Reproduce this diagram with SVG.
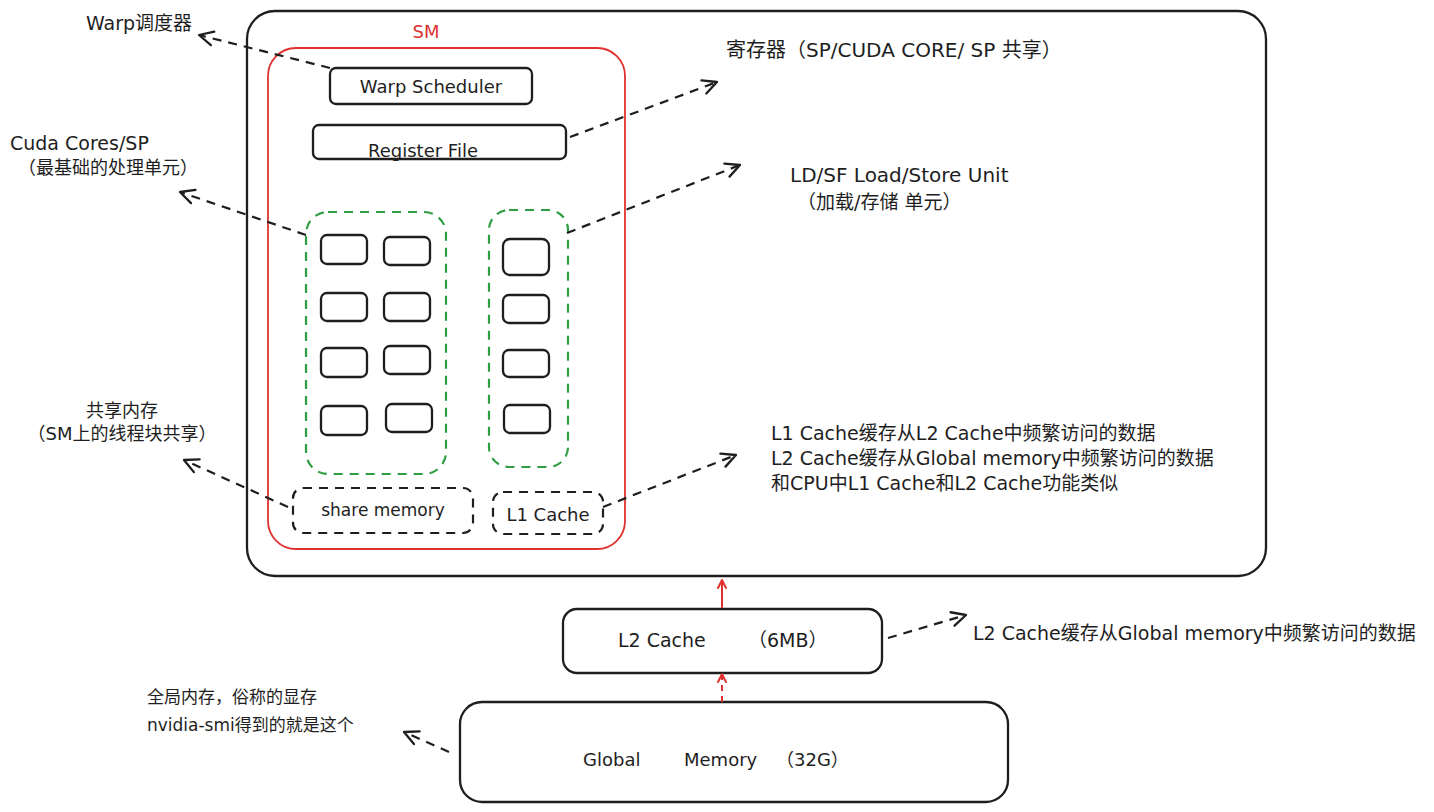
<svg xmlns="http://www.w3.org/2000/svg" width="1434" height="812" viewBox="0 0 1434 812">
<style>
  .bg { fill: #ffffff; }
  .box { fill: none; stroke: #1e1e1e; stroke-width: 2.3; }
  .sm { fill: none; stroke: #e03131; stroke-width: 1.8; }
  .grp { fill: none; stroke: #2f9e44; stroke-width: 2.2; stroke-dasharray: 9 7; }
  .dbox { fill: none; stroke: #1e1e1e; stroke-width: 2.2; stroke-dasharray: 9 7; }
  .conn { fill: none; stroke: #1e1e1e; stroke-width: 2.2; stroke-dasharray: 9 7; marker-end: url(#arr); }
  .red { fill: none; stroke: #e03131; stroke-width: 2; marker-end: url(#arrRed); }
  .redd { stroke-dasharray: 6 5; }
  text { font-family: "DejaVu Sans", "Noto Sans CJK SC", sans-serif; fill: #1e1e1e; }
  .t20 { font-size: 20px; }
  .t19 { font-size: 19px; }
  .t18 { font-size: 18px; }
  .t17 { font-size: 17px; }
  .mid { text-anchor: middle; }
</style>
<defs>
  <marker id="arr" viewBox="-16 -10 20 20" refX="0" refY="0" markerWidth="20" markerHeight="20" markerUnits="userSpaceOnUse" orient="auto">
    <path d="M-14,-7 L0,0 L-14,7" fill="none" stroke="#1e1e1e" stroke-width="2.3" stroke-linecap="round" stroke-linejoin="round"/>
  </marker>
  <marker id="arrRed" viewBox="-10 -6 12 12" refX="0" refY="0" markerWidth="12" markerHeight="12" markerUnits="userSpaceOnUse" orient="auto">
    <path d="M-8,-4 L0,0 L-8,4" fill="none" stroke="#e03131" stroke-width="2" stroke-linecap="round" stroke-linejoin="round"/>
  </marker>
</defs>
<rect class="bg" x="0" y="0" width="1434" height="812"/>

<g id="gpu">
  <rect class="box" x="247" y="11" width="1019" height="565" rx="28"/>
</g>
<g id="sm">
  <rect class="sm" x="268" y="48" width="357" height="501" rx="28"/>
  <text class="t18 mid" x="426" y="38" style="fill:#e03131">SM</text>
</g>
<g id="warp-scheduler">
  <rect class="box" x="330" y="68" width="202" height="36" rx="6"/>
  <text class="t18 mid" x="431" y="93">Warp Scheduler</text>
</g>
<g id="register-file">
  <rect class="box" x="313" y="125" width="253" height="34" rx="6"/>
  <text class="t18 mid" x="423" y="157">Register File</text>
</g>
<g id="cuda-cores">
  <rect class="grp" x="306" y="212" width="140" height="262" rx="22"/>
  <rect class="box" x="321" y="235" width="46" height="29" rx="6"/>
  <rect class="box" x="384" y="237" width="46" height="28" rx="6"/>
  <rect class="box" x="321" y="293" width="46" height="28" rx="6"/>
  <rect class="box" x="384" y="293" width="46" height="28" rx="6"/>
  <rect class="box" x="321" y="348" width="46" height="29" rx="6"/>
  <rect class="box" x="384" y="346" width="46" height="28" rx="6"/>
  <rect class="box" x="321" y="406" width="46" height="29" rx="6"/>
  <rect class="box" x="386" y="404" width="46" height="28" rx="6"/>
</g>
<g id="ld-st-units">
  <rect class="grp" x="489" y="210" width="79" height="257" rx="20"/>
  <rect class="box" x="503" y="239" width="46" height="36" rx="7"/>
  <rect class="box" x="503" y="295" width="46" height="28" rx="6"/>
  <rect class="box" x="503" y="350" width="46" height="27" rx="6"/>
  <rect class="box" x="504" y="405" width="46" height="28" rx="6"/>
</g>
<g id="share-memory">
  <rect class="dbox" x="293" y="488" width="180" height="45" rx="10"/>
  <text class="t17 mid" x="383" y="516">share memory</text>
</g>
<g id="l1-cache">
  <rect class="dbox" x="493" y="492" width="110" height="42" rx="10"/>
  <text class="t18 mid" x="548" y="521">L1 Cache</text>
</g>
<g id="l2-cache">
  <rect class="box" x="563" y="609" width="319" height="64" rx="14"/>
  <text class="t19" y="647"><tspan x="618">L2 Cache</tspan><tspan x="748">（6MB）</tspan></text>
</g>
<g id="global-memory">
  <rect class="box" x="460" y="702" width="548" height="100" rx="22"/>
  <text class="t18" y="766"><tspan x="583">Global</tspan><tspan x="684">Memory</tspan><tspan x="776">（32G）</tspan></text>
</g>

<g id="labels">
  <text class="t19" x="86" y="30">Warp调度器</text>
  <text class="t19" x="10" y="150">Cuda Cores/SP</text>
  <text class="t18" x="18" y="174">（最基础的处理单元）</text>
  <text class="t18 mid" x="122" y="417">共享内存</text>
  <text class="t18 mid" x="122" y="440">（SM上的线程块共享）</text>
  <text class="t17" x="147" y="703">全局内存，俗称的显存</text>
  <text class="t17" x="147" y="731">nvidia-smi得到的就是这个</text>
  <text class="t20" x="726" y="57">寄存器（SP/CUDA CORE/ SP 共享）</text>
  <text class="t20" x="790" y="182">LD/SF Load/Store Unit</text>
  <text class="t19" x="797" y="209">（加载/存储 单元）</text>
  <text class="t19" x="771" y="440">L1 Cache缓存从L2 Cache中频繁访问的数据</text>
  <text class="t19" x="771" y="465">L2 Cache缓存从Global memory中频繁访问的数据</text>
  <text class="t19" x="771" y="490">和CPU中L1 Cache和L2 Cache功能类似</text>
  <text class="t19" x="973" y="640">L2 Cache缓存从Global memory中频繁访问的数据</text>
</g>

<g id="connectors">
  <path class="conn" d="M330,68 L199,35"/>
  <path class="conn" d="M570,137 L717,82"/>
  <path class="conn" d="M306,235 L180,192"/>
  <path class="conn" d="M567,233 L740,165"/>
  <path class="conn" d="M288,507 L184,460"/>
  <path class="conn" d="M603,507 L736,455"/>
  <path class="conn" d="M888,638 L966,615"/>
  <path class="conn" d="M449,752 L404,732"/>
  <path class="red" d="M722,608 L722,580"/>
  <path class="red redd" d="M722,702 L722,674"/>
</g>
</svg>
